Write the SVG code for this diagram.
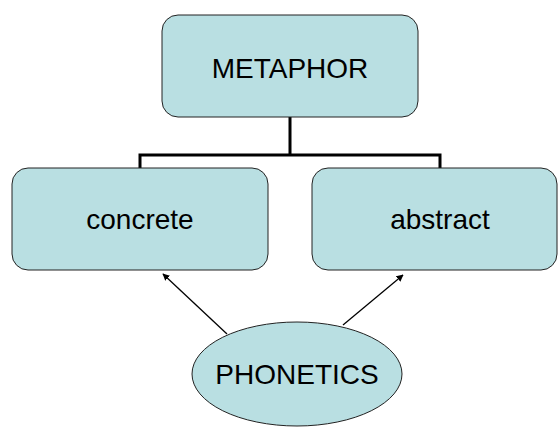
<svg xmlns="http://www.w3.org/2000/svg" width="558" height="427" viewBox="0 0 558 427">
<defs>
<style>
.node{fill:#b9dfe2;stroke:#222;stroke-width:1}
.lbl{font-family:"Liberation Sans",Arial,sans-serif;font-size:28px;fill:#000;text-anchor:middle}
.tree{fill:none;stroke:#000;stroke-width:3}
.arr{fill:none;stroke:#000;stroke-width:1.3;marker-end:url(#ah)}
</style>
<marker id="ah" viewBox="0 0 10 10" refX="9" refY="5" markerWidth="7" markerHeight="7" orient="auto" markerUnits="userSpaceOnUse">
<path d="M0,0 L10,5 L0,10 z" fill="#000"/>
</marker>
</defs>
<g id="connectors">
<path class="tree" d="M290,117 V155 M140,168 V155 H440 V168"/>
<path class="arr" d="M227,334 L163,274"/>
<path class="arr" d="M343,325 L403,275"/>
</g>
<g id="metaphor">
<rect class="node" x="162" y="15" width="256" height="102" rx="16"/>
<text class="lbl" x="290" y="78">METAPHOR</text>
</g>
<g id="concrete">
<rect class="node" x="12" y="168" width="256" height="102" rx="16"/>
<text class="lbl" x="140" y="229">concrete</text>
</g>
<g id="abstract">
<rect class="node" x="312" y="168" width="245" height="102" rx="16"/>
<text class="lbl" x="440" y="229">abstract</text>
</g>
<g id="phonetics">
<ellipse class="node" cx="297" cy="374" rx="105" ry="52"/>
<text class="lbl" x="297" y="384">PHONETICS</text>
</g>
</svg>
